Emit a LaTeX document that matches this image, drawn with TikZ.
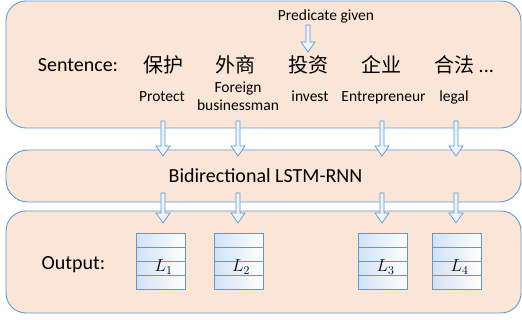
\documentclass[tikz,border=0pt]{standalone}
\usepackage{fontspec}
\setmainfont{Carlito}
\newfontfamily\cjk{Noto Sans CJK SC}
\usetikzlibrary{calc}
\definecolor{edgeblue}{RGB}{91,155,213}
\definecolor{peach}{RGB}{251,229,214}
\definecolor{cellblue}{RGB}{212,226,246}
\definecolor{arrowfill}{RGB}{236,243,251}

% hollow block arrow pointing down, from coordinate #1 to tip #2
\newcommand\hollowdown[2]{%
  \draw[hollow] let \p1=(#1), \p2=(#2) in
    (\x1-2pt,\y1) -- (\x1+2pt,\y1) -- (\x1+2pt,\y2+10pt) -- (\x1+7pt,\y2+10pt)
    -- (\x1,\y2) -- (\x1-7pt,\y2+10pt) -- (\x1-2pt,\y2+10pt) -- cycle;}

\begin{document}
\begin{tikzpicture}[x=1pt,y=-1pt,
  panel/.style={draw=edgeblue, line width=0.9pt, fill=peach, rounded corners=20pt,
                minimum width=515pt, inner sep=0pt},
  big/.style={font=\fontsize{20}{24}\selectfont, inner sep=0pt},
  han/.style={font=\cjk\fontsize{20}{24}\selectfont, inner sep=0pt},
  small/.style={font=\fontsize{15.5}{18}\selectfont, inner sep=0pt, align=center},
  hollow/.style={draw=edgeblue, line width=0.7pt, fill=arrowfill, line join=miter},
  cell/.style={draw=edgeblue, line width=0.8pt, left color=cellblue, right color=white},
  lslot/.style={minimum width=49pt, minimum height=56pt, inner sep=0pt},
  lname/.style={font=\fontsize{18.5}{22}\selectfont, inner sep=0pt}]
\useasboundingbox (0,0) rectangle (522,320);

% three panels
\node[panel, minimum height=127pt] (sent) at (263.5,64.5) {};
\node[panel, minimum height=52pt, rounded corners=22pt] (rnn) at (263.5,176) {};
\node[panel, minimum height=102pt] (out) at (263.5,262) {};

% sentence row
\node[big, anchor=base] (slabel) at (78,72) {Sentence:};
\node[han] (w1) at (163,65) {保护};
\node[han] (w2) at (235,65) {外商};
\node[han] (w3) at (308,65) {投资};
\node[han] (w4) at (381,65) {企业};
\node[big, anchor=west] (w5) at (434,65) {{\cjk 合法} ...};

\node[small, anchor=base] (e1) at (162,102) {Protect};
\node[small] (e2) at (238,96.5) {Foreign\\businessman};
\node[small, anchor=base] (e3) at (310,102) {invest};
\node[small, anchor=base] (e4) at (383.5,102) {Entrepreneur};
\node[small, anchor=base] (e5) at (454,102) {legal};

\node[small, anchor=base] (pred) at (326,21) {Predicate given};

% network and output labels
\node[big, anchor=base] (rnnlabel) at (265.5,183) {Bidirectional LSTM-RNN};
\node[big, anchor=base] (olabel) at (73.5,270) {Output:};

% label boxes
\foreach \i/\cx in {1/161.5, 2/239, 3/383.5, 4/457.5}{
  \node[lslot] (b\i) at (\cx,262) {};
  \foreach \k in {0,1,2,3}
    \path[cell] ($(b\i.north west)+(0,14*\k)$) rectangle ++(49,14);
  \node[lname, anchor=base] (l\i) at ($(b\i.center)+(2,10)$) {$L_{\i}$};
}

% arrow end points
\coordinate (pa) at (308,25);  \coordinate (pb) at (308,52);
\foreach \j/\ax in {1/163, 2/238, 3/382, 4/456}{
  \coordinate (u\j) at (\ax,121); \coordinate (v\j) at (\ax,156);
  \coordinate (s\j) at (\ax,193); \coordinate (t\j) at (\ax,223);
}
\hollowdown{pa}{pb}
\foreach \j in {1,2,3,4}{
  \hollowdown{u\j}{v\j}
  \hollowdown{s\j}{t\j}
}
\end{tikzpicture}
\end{document}
